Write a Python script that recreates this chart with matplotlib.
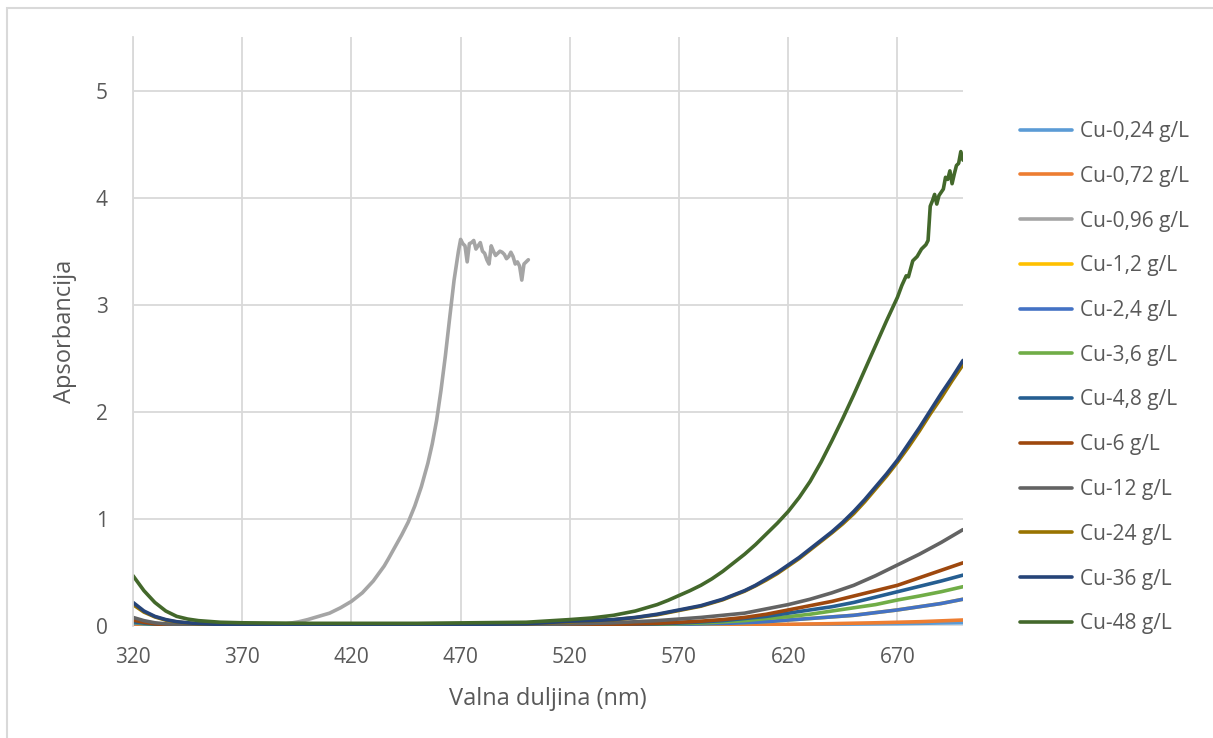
import matplotlib.pyplot as plt
from matplotlib.patches import Rectangle

# valne duljine (nm) za manje krivulje
wl = [320, 325, 330, 335, 340, 345, 350, 360, 370, 400, 450, 500, 520, 540, 560,
      570, 580, 590, 600, 610, 620, 630, 640, 650, 660, 670, 680, 690, 700]
# gusce tocke za velike krivulje
wl_fine = [320, 325, 330, 335, 340, 345, 350, 360, 370, 400, 450, 500, 520, 530, 540, 550, 560,
           565, 570, 575, 580, 585, 590, 595, 600, 605, 610, 615, 620, 625, 630, 635, 640,
           645, 650, 655, 660, 665, 670, 675, 680, 685, 690, 695, 700]

cu_024 = [0.01, 0.008, 0.006, 0.005, 0.004, 0.003, 0.003, 0.002, 0.002, 0.002, 0.002, 0.003, 0.003,
          0.004, 0.005, 0.006, 0.007, 0.008, 0.009, 0.011, 0.012, 0.014, 0.016, 0.018, 0.02,
          0.022, 0.025, 0.028, 0.03]
cu_072 = [0.02, 0.014, 0.01, 0.008, 0.006, 0.005, 0.004, 0.003, 0.003, 0.003, 0.003, 0.004, 0.005,
          0.006, 0.007, 0.008, 0.009, 0.01, 0.012, 0.014, 0.016, 0.019, 0.022, 0.026, 0.03,
          0.035, 0.04, 0.048, 0.056]
# Cu-1,2 se na slici ne vidi (skriven ispod Cu-2,4)
cu_12 = [0.03, 0.02, 0.014, 0.01, 0.008, 0.006, 0.005, 0.004, 0.003, 0.003, 0.003, 0.004, 0.006,
         0.008, 0.012, 0.015, 0.019, 0.024, 0.03, 0.04, 0.056, 0.07, 0.085, 0.1, 0.125,
         0.15, 0.18, 0.21, 0.25]
cu_24 = [0.03, 0.02, 0.014, 0.01, 0.008, 0.006, 0.005, 0.004, 0.003, 0.003, 0.003, 0.004, 0.006,
         0.008, 0.012, 0.015, 0.019, 0.024, 0.03, 0.04, 0.056, 0.07, 0.085, 0.1, 0.125,
         0.15, 0.18, 0.21, 0.25]
cu_36 = [0.035, 0.024, 0.016, 0.011, 0.008, 0.006, 0.005, 0.004, 0.003, 0.003, 0.003, 0.005, 0.007,
         0.01, 0.016, 0.021, 0.028, 0.038, 0.05, 0.07, 0.087, 0.11, 0.14, 0.17, 0.2,
         0.243, 0.28, 0.32, 0.367]
cu_48 = [0.04, 0.027, 0.018, 0.013, 0.01, 0.008, 0.006, 0.005, 0.004, 0.004, 0.004, 0.006, 0.009,
         0.013, 0.02, 0.028, 0.038, 0.05, 0.07, 0.09, 0.12, 0.15, 0.18, 0.22, 0.27,
         0.32, 0.37, 0.42, 0.475]
cu_6 = [0.055, 0.035, 0.02, 0.014, 0.01, 0.007, 0.005, 0.004, 0.003, 0.003, 0.003, 0.005, 0.01,
        0.015, 0.025, 0.035, 0.045, 0.06, 0.08, 0.11, 0.15, 0.19, 0.23, 0.28, 0.33,
        0.38, 0.45, 0.52, 0.59]
cu_12g = [0.08, 0.05, 0.03, 0.02, 0.015, 0.012, 0.01, 0.007, 0.006, 0.005, 0.006, 0.01, 0.02,
          0.03, 0.05, 0.065, 0.08, 0.1, 0.12, 0.16, 0.2, 0.25, 0.31, 0.38, 0.47,
          0.57, 0.67, 0.78, 0.9]
cu_24g = [0.2, 0.13, 0.085, 0.055, 0.038, 0.028, 0.02, 0.014, 0.01, 0.01, 0.01, 0.02, 0.04, 0.048,
          0.058, 0.078, 0.105, 0.125, 0.145, 0.165, 0.185, 0.215, 0.245, 0.285, 0.325, 0.375,
          0.43, 0.49, 0.56, 0.63, 0.71, 0.79, 0.87, 0.955, 1.05, 1.16, 1.28, 1.4, 1.53,
          1.67, 1.82, 1.98, 2.13, 2.29, 2.44]
cu_36g = [0.22, 0.14, 0.09, 0.06, 0.04, 0.03, 0.022, 0.015, 0.012, 0.01, 0.01, 0.02, 0.045, 0.05,
          0.06, 0.08, 0.11, 0.13, 0.15, 0.17, 0.19, 0.22, 0.25, 0.29, 0.33, 0.38,
          0.44, 0.5, 0.57, 0.64, 0.72, 0.8, 0.88, 0.97, 1.07, 1.18, 1.3, 1.42, 1.55,
          1.7, 1.85, 2.01, 2.17, 2.32, 2.48]

# Cu-48 g/L ima sum na kraju
wl_48 = [320, 325, 330, 335, 340, 345, 350, 360, 370, 400, 450, 500, 520, 530, 540, 550, 560,
         565, 570, 575, 580, 585, 590, 595, 600, 605, 610, 615, 620, 625, 630, 635, 640,
         645, 650, 655, 660, 665, 670, 672, 674, 675, 677, 679, 681, 683, 684, 685, 686,
         687, 688, 689, 691, 692, 693, 694, 695, 696, 697, 698, 699, 700]
cu_48g = [0.47, 0.33, 0.22, 0.14, 0.09, 0.065, 0.05, 0.035, 0.03, 0.025, 0.025, 0.035, 0.06, 0.075,
          0.1, 0.14, 0.2, 0.24, 0.285, 0.33, 0.38, 0.44, 0.51, 0.59, 0.67, 0.76, 0.86,
          0.96, 1.07, 1.2, 1.35, 1.53, 1.73, 1.94, 2.16, 2.39, 2.62, 2.85, 3.07,
          3.18, 3.27, 3.26, 3.41, 3.45, 3.52, 3.56, 3.6, 3.92, 3.97, 4.03, 3.94, 4.02,
          4.08, 4.19, 4.17, 4.25, 4.13, 4.22, 4.3, 4.32, 4.43, 4.35]

# Cu-0,96 g/L mjereno samo do 500 nm
wl_096 = [320, 325, 330, 340, 360, 380, 390, 396, 400, 405, 410, 415, 420, 425, 430, 435,
          437, 440, 443, 446, 449, 452, 455, 457, 459, 461, 463, 465, 467, 469, 470, 471,
          472, 473, 474, 475, 476, 477, 478, 479, 480, 481, 482, 483, 484, 485, 486, 487,
          488, 489, 490, 491, 492, 493, 494, 495, 496, 497, 498, 499, 500, 501]
cu_096 = [0.03, 0.022, 0.018, 0.015, 0.014, 0.014, 0.02, 0.04, 0.06, 0.09, 0.12, 0.17, 0.23,
          0.31, 0.42, 0.56, 0.63, 0.74, 0.85, 0.97, 1.12, 1.3, 1.52, 1.7, 1.92, 2.2,
          2.52, 2.88, 3.23, 3.5, 3.61, 3.57, 3.55, 3.4, 3.57, 3.58, 3.6, 3.52, 3.55,
          3.58, 3.5, 3.48, 3.42, 3.38, 3.55, 3.5, 3.46, 3.48, 3.5, 3.49, 3.47, 3.43,
          3.45, 3.49, 3.45, 3.38, 3.4, 3.36, 3.23, 3.38, 3.4, 3.42]

labels = ['Cu-0,24 g/L', 'Cu-0,72 g/L', 'Cu-0,96 g/L', 'Cu-1,2 g/L', 'Cu-2,4 g/L',
          'Cu-3,6 g/L', 'Cu-4,8 g/L', 'Cu-6 g/L', 'Cu-12 g/L', 'Cu-24 g/L',
          'Cu-36 g/L', 'Cu-48 g/L']
colors = ['#5B9BD5', '#ED7D31', '#A5A5A5', '#FFC000', '#4472C4', '#70AD47',
          '#255E91', '#9E480E', '#636363', '#997300', '#264478', '#43682B']

series = [(wl, cu_024), (wl, cu_072), (wl_096, cu_096), (wl, cu_12), (wl, cu_24),
          (wl, cu_36), (wl, cu_48), (wl, cu_6), (wl, cu_12g), (wl_fine, cu_24g),
          (wl_fine, cu_36g), (wl_48, cu_48g)]

plt.rcParams['font.family'] = ['Open Sans', 'DejaVu Sans']
txt = '#595959'

fig = plt.figure(figsize=(12.13, 7.38), dpi=100)
fig.patches.append(Rectangle((7 / 1213, -0.1), 1.2, 1.1 - 8 / 738, transform=fig.transFigure,
                             fill=False, edgecolor='#D9D9D9', linewidth=1.5))
ax = fig.add_axes([133 / 1213, 1 - 626 / 738, 830 / 1213, 589 / 738])

# crtanje
for (x, y), lab, c in zip(series, labels, colors):
    ax.plot(x, y, color=c, linewidth=2.6, label=lab, solid_capstyle='round')

ax.set_xlim(320, 700)
ax.set_ylim(0, 5.5)
ax.set_xticks(range(320, 700, 50))
ax.set_yticks(range(0, 6))
ax.grid(True, color='#D9D9D9', linewidth=1.3)
ax.set_axisbelow(True)
for s in ['top', 'right', 'bottom']:
    ax.spines[s].set_visible(False)
ax.spines['left'].set_color('#D9D9D9')
ax.spines['left'].set_linewidth(1.3)
ax.tick_params(length=0, colors=txt, labelsize=15, pad=15)
ax.tick_params(axis='y', pad=18)

ax.set_xlabel('Valna duljina (nm)', fontsize=17, color=txt, labelpad=14)
ax.set_ylabel('Apsorbancija', fontsize=17, color=txt, labelpad=14)

fig.legend(loc='upper left', bbox_to_anchor=(1020 / 1213, 1 - 121 / 738), frameon=False,
           fontsize=15, labelcolor=txt, handlelength=2.5, handletextpad=0.38,
           labelspacing=1.14, borderaxespad=0, borderpad=0)

plt.savefig('out.png', dpi=100)
